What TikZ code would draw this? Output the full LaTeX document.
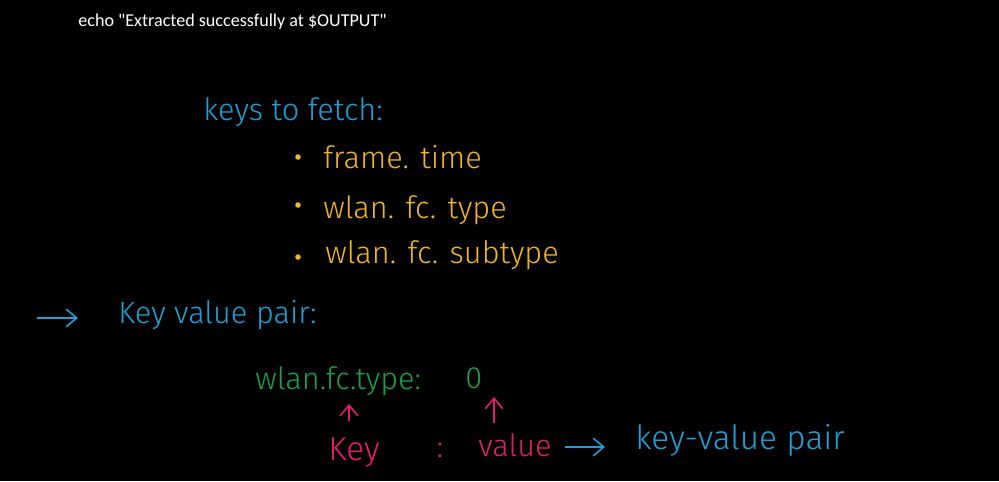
\documentclass[tikz,border=0pt]{standalone}
\usepackage{fontspec}
\setmainfont{Carlito}
\newfontfamily\echofont{Carlito}
\newfontfamily\hand{Fira Sans Light}
\usetikzlibrary{arrows.meta}
\definecolor{inkblue}{RGB}{30,160,215}
\definecolor{inkorange}{RGB}{240,180,40}
\definecolor{inkgreen}{RGB}{25,160,75}
\definecolor{inkpink}{RGB}{225,30,110}
\tikzset{
  hw/.style={font=\hand\fontsize{17.5}{20}\selectfont, inner sep=0pt},
  hwarrow/.style={-{Straight Barb[length=6pt,width=10pt]}, line width=0.9pt},
}

\begin{document}
\begin{tikzpicture}[x=0.02cm,y=-0.02cm]
\fill[black] (0,0) rectangle (999,481);
\node[text=white, font=\echofont\fontsize{10.3}{12}\selectfont, anchor=west, inner sep=0pt] (echo) at (78,22) {echo "Extracted successfully at \$OUTPUT"};

\node[hw, text=inkblue, anchor=west] (fetch) at (203,112) {keys to fetch:};
\node[hw, text=inkorange, anchor=west] (k1) at (323,157) {frame. time};
\node[hw, text=inkorange, anchor=west] (k2) at (323,210) {wlan. fc. type};
\node[hw, text=inkorange, anchor=west] (k3) at (325,255) {wlan. fc. subtype};
\foreach \y/\n in {157/1,205/2,257/3}
  \fill[inkorange] (298,\y) circle (1.6pt);

\node[hw, text=inkblue, anchor=west] (kvp) at (118,315) {Key value pair:};
\coordinate (a0) at (37,318);
\coordinate (a1) at (78,318);
\draw[hwarrow, inkblue] (a0) -- (a1);

\node[hw, text=inkgreen, anchor=west] (wkey) at (255,381) {wlan.fc.type:};
\node[hw, text=inkgreen, anchor=west] (wval) at (465,378) {0};

\node[hw, text=inkpink, anchor=west, font=\hand\fontsize{19}{22}\selectfont] (key) at (328,452) {Key};
\node[hw, text=inkpink] (colon) at (440,450) {:};
\node[hw, text=inkpink, anchor=west] (val) at (478,445) {value};
\node[hw, text=inkblue, anchor=west, font=\hand\fontsize{19}{22}\selectfont] (pair) at (635,440) {key-value pair};

\coordinate (p1) at (349,421);
\coordinate (q1) at (349,404);
\coordinate (p2) at (494,423);
\coordinate (q2) at (494,397);
\coordinate (r1) at (565,447);
\coordinate (r2) at (605,447);
\draw[hwarrow, inkpink] (p1) -- (q1);
\draw[hwarrow, inkpink] (p2) -- (q2);
\draw[hwarrow, inkblue] (r1) -- (r2);
\end{tikzpicture}
\end{document}
